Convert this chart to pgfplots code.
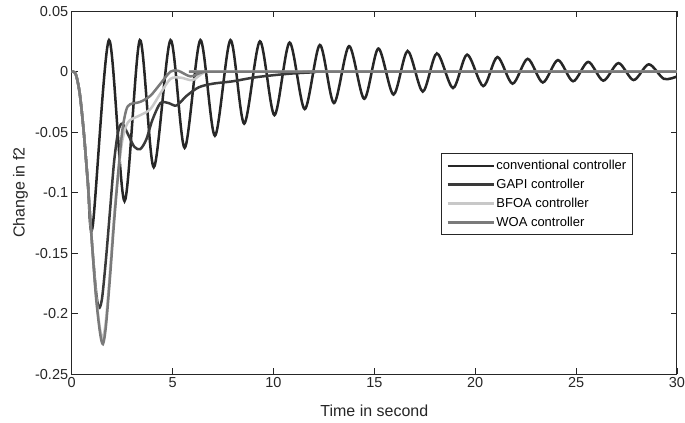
\documentclass[border=0pt]{standalone}
\usepackage{fontspec}
\setmainfont{Liberation Sans}
\usepackage{pgfplots}
\pgfplotsset{compat=1.18}
\definecolor{convc}{HTML}{262626}
\definecolor{gapic}{HTML}{3A3A3A}
\definecolor{bfoac}{HTML}{C8C8C8}
\definecolor{woac}{HTML}{7A7A7A}
\begin{document}
\begin{tikzpicture}
\begin{axis}[
  scale only axis, width=604bp, height=362.5bp,
  xmin=0, xmax=30, ymin=-0.25, ymax=0.05,
  xtick={0,5,10,15,20,25,30},
  xticklabels={0,5,10,15,20,25,30},
  ytick={-0.25,-0.2,-0.15,-0.1,-0.05,0,0.05},
  yticklabels={-0.25,-0.2,-0.15,-0.1,-0.05,0,0.05},
  /pgf/number format/assume math mode=true,
  tick align=inside, major tick length=6bp,
  axis line style={line width=1bp, color=black!85},
  tick style={line width=0.9bp, color=black!85},
  ticklabel style={font=\fontsize{14.5}{16}\selectfont, color=black!85},
  xlabel={Time in second}, ylabel={Change in f2},
  label style={font=\fontsize{16}{18}\selectfont, color=black!85},
  xlabel style={at={(axis description cs:0.5,-0.1007)}, anchor=center},
  ylabel style={at={(axis description cs:-0.0844,0.5)}, anchor=center},
  legend cell align=left,
  legend image code/.code={\draw[#1, line width=2.5bp] (0bp,0bp) -- (46bp,0bp);},
  legend style={at={(axis description cs:0.610,0.608)}, anchor=north west,
    draw=black!85, line width=0.8bp, fill=white, inner sep=5bp,
    font=\fontsize{13}{15}\selectfont, row sep=5bp,
    nodes={inner sep=1.5bp}},
]
\addplot[color=convc, line width=2.5bp, smooth] coordinates {
(0,0)(0.2,-0.002)(0.4,-0.018)(0.6,-0.05)(0.8,-0.09)(1.04,-0.128)(1.85,0.026)(2.62,-0.107)(3.38,0.026)(4.07,-0.079)(4.9,0.026)(5.6,-0.063)(6.38,0.026)(7.1,-0.053)(7.87,0.026)(8.55,-0.043)(9.33,0.025)(10.05,-0.036)(10.8,0.024)(11.55,-0.031)(12.3,0.022)(13.0,-0.026)(13.75,0.021)(14.5,-0.0225)(15.2,0.019)(15.95,-0.019)(16.65,0.017)(17.4,-0.0165)(18.1,0.015)(18.9,-0.0136)(19.6,0.014)(20.4,-0.012)(21.1,0.012)(21.85,-0.010)(22.6,0.0105)(23.35,-0.009)(24.1,0.0095)(24.85,-0.008)(25.6,0.008)(26.35,-0.0075)(27.1,0.007)(27.85,-0.007)(28.6,0.006)(29.35,-0.006)(30,-0.004)
};
\addlegendentry{conventional controller}
\addplot[color=gapic, line width=2.5bp, smooth] coordinates {
(0,0)(0.2,-0.002)(0.4,-0.018)(0.6,-0.05)(0.8,-0.092)(1.0,-0.14)(1.2,-0.18)(1.34,-0.195)(1.5,-0.188)(1.7,-0.155)(1.9,-0.115)(2.1,-0.075)(2.3,-0.05)(2.5,-0.043)(2.8,-0.052)(3.1,-0.062)(3.4,-0.064)(3.7,-0.056)(4.0,-0.04)(4.4,-0.026)(4.8,-0.026)(5.2,-0.028)(5.7,-0.02)(6.3,-0.013)(7.0,-0.01)(8.0,-0.008)(9.0,-0.005)(10.0,-0.003)(11,-0.0015)(12,-0.0006)(13,0)(30,0)
};
\addlegendentry{GAPI controller}
\addplot[color=bfoac, line width=2.5bp, smooth] coordinates {
(0,0)(0.2,-0.002)(0.4,-0.018)(0.6,-0.05)(0.8,-0.092)(1.0,-0.14)(1.2,-0.183)(1.4,-0.212)(1.55,-0.22)(1.7,-0.205)(1.9,-0.165)(2.1,-0.12)(2.3,-0.085)(2.5,-0.058)(2.7,-0.045)(2.9,-0.04)(3.4,-0.036)(3.9,-0.031)(4.4,-0.018)(4.9,-0.006)(5.4,-0.005)(6.0,-0.007)(6.6,-0.0005)(7.5,0)(30,0)
};
\addlegendentry{BFOA controller}
\addplot[color=woac, line width=2.5bp, smooth] coordinates {
(0,0)(0.2,-0.002)(0.4,-0.018)(0.6,-0.05)(0.8,-0.092)(1.0,-0.14)(1.2,-0.185)(1.4,-0.215)(1.55,-0.225)(1.7,-0.21)(1.9,-0.17)(2.1,-0.125)(2.3,-0.085)(2.5,-0.05)(2.7,-0.032)(2.9,-0.027)(3.4,-0.025)(3.9,-0.02)(4.4,-0.01)(4.9,0.0)(5.3,0.0005)(5.9,-0.004)(6.5,-0.0005)(7.5,0)(30,0)
};
\addlegendentry{WOA controller}
\end{axis}
\pgfresetboundingbox
\path[use as bounding box] ([shift={(-71.5bp,-48.5bp)}]current axis.south west) rectangle ([shift={(8bp,11bp)}]current axis.north east);
\end{tikzpicture}
\end{document}
